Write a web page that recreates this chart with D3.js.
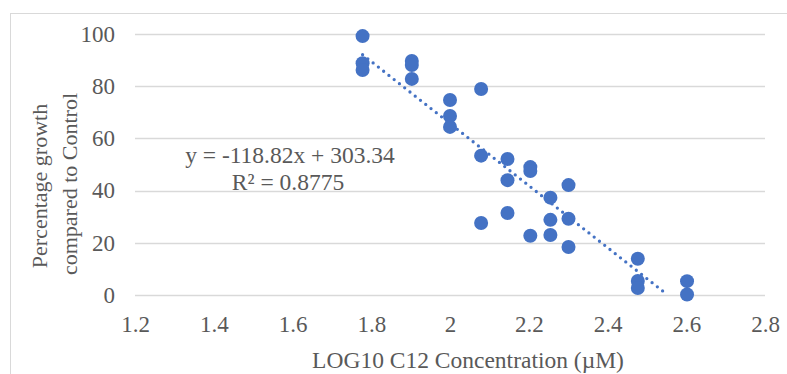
<!DOCTYPE html>
<html>
<head>
<meta charset="utf-8">
<script src="https://cdn.jsdelivr.net/npm/d3@7"></script>
<style>
  body { margin: 0; background: #fff; }
  text { font-family: "Liberation Serif", "Times New Roman", serif; }
</style>
</head>
<body>
<div id="chart"></div>
<script>
// log10 of concentration (uM) and % growth vs control
var xVals = [1.778, 1.778, 1.778,
             1.903, 1.903, 1.903,
             2.0, 2.0, 2.0,
             2.079, 2.079, 2.079,
             2.146, 2.146, 2.146,
             2.204, 2.204, 2.204,
             2.255, 2.255, 2.255,
             2.301, 2.301, 2.301,
             2.477, 2.477, 2.477,
             2.602, 2.602];
var yVals = [99.2, 88.8, 86.2,
             89.7, 88.1, 82.8,
             74.7, 68.6, 64.4,
             78.9, 53.4, 27.6,
             52.1, 44.0, 31.4,
             49.0, 47.5, 22.7,
             37.3, 28.8, 23.0,
             42.1, 29.2, 18.4,
             13.9, 5.4, 2.7,
             5.3, 0.2];
var xTicks = [1.2, 1.4, 1.6, 1.8, 2, 2.2, 2.4, 2.6, 2.8];
var yTicks = [0, 20, 40, 60, 80, 100];
var slope = -118.82, intercept = 303.34;
var eqLabel = "y = -118.82x + 303.34";
var r2Label = "R\u00b2 = 0.8775";

var width = 787, height = 374;
var plotLeft = 135, plotRight = 765, plotTop = 34, plotBottom = 295;

var svg = d3.select("#chart").append("svg")
    .attr("width", width)
    .attr("height", height);

// chart border
svg.append("rect")
    .attr("x", 10.5).attr("y", 13.5)
    .attr("width", 790).attr("height", 380)
    .attr("fill", "none")
    .attr("stroke", "#d9d9d9");

var x = d3.scaleLinear().domain([1.2, 2.8]).range([plotLeft, plotRight]);
var y = d3.scaleLinear().domain([0, 100]).range([plotBottom, plotTop]);

// gridlines
svg.append("g")
    .selectAll("line")
    .data(yTicks)
    .enter()
    .append("line")
    .attr("x1", plotLeft).attr("x2", plotRight)
    .attr("y1", function(d) { return Math.round(y(d)) + 0.5; })
    .attr("y2", function(d) { return Math.round(y(d)) + 0.5; })
    .attr("stroke", "#d9d9d9")
    .attr("stroke-width", 1.5);

// axes (labels only)
var xAxis = svg.append("g")
    .attr("transform", "translate(0," + plotBottom + ")")
    .attr("font-family", null)
    .call(d3.axisBottom(x).tickValues(xTicks).tickSize(0).tickPadding(21)
          .tickFormat(function(d) { return String(d); }));
xAxis.attr("font-family", "Liberation Serif").attr("font-size", 23);
xAxis.select(".domain").remove();
xAxis.selectAll("text")
    .attr("fill", "#595959");

var yAxis = svg.append("g")
    .attr("transform", "translate(" + plotLeft + ",0)")
    .call(d3.axisLeft(y).tickValues(yTicks).tickSize(0).tickPadding(20));
yAxis.attr("font-family", "Liberation Serif").attr("font-size", 23);
yAxis.select(".domain").remove();
yAxis.selectAll("text")
    .attr("fill", "#595959");

// trendline, clipped at y = 0
var x0 = d3.min(xVals);
var x1 = Math.min(d3.max(xVals), -intercept / slope);
svg.append("line")
    .attr("x1", x(x0)).attr("y1", y(slope * x0 + intercept))
    .attr("x2", x(x1)).attr("y2", y(slope * x1 + intercept))
    .attr("stroke", "#4472c4")
    .attr("stroke-width", 3.3)
    .attr("stroke-linecap", "round")
    .attr("stroke-dasharray", "0 6.7");

// points
svg.append("g")
    .selectAll("circle")
    .data(d3.range(xVals.length))
    .enter()
    .append("circle")
    .attr("cx", function(i) { return x(xVals[i]); })
    .attr("cy", function(i) { return y(yVals[i]); })
    .attr("r", 7)
    .attr("fill", "#4472c4");

// equation
svg.append("text")
    .attr("x", 290).attr("y", 163)
    .attr("text-anchor", "middle")
    .style("font-size", "23.5px")
    .attr("fill", "#595959")
    .text(eqLabel);
svg.append("text")
    .attr("x", 288).attr("y", 190)
    .attr("text-anchor", "middle")
    .style("font-size", "23.5px")
    .attr("fill", "#595959")
    .text(r2Label);

// axis titles
svg.append("text")
    .attr("transform", "translate(47,186) rotate(-90)")
    .attr("text-anchor", "middle")
    .style("font-size", "22px")
    .attr("fill", "#595959")
    .text("Percentage growth");
svg.append("text")
    .attr("transform", "translate(77,184) rotate(-90)")
    .attr("text-anchor", "middle")
    .style("font-size", "22px")
    .attr("fill", "#595959")
    .text("compared to Control");
svg.append("text")
    .attr("x", 468).attr("y", 368)
    .attr("text-anchor", "middle")
    .style("font-size", "23.5px")
    .attr("fill", "#595959")
    .text("LOG10 C12 Concentration (\u00b5M)");
</script>
</body>
</html>
